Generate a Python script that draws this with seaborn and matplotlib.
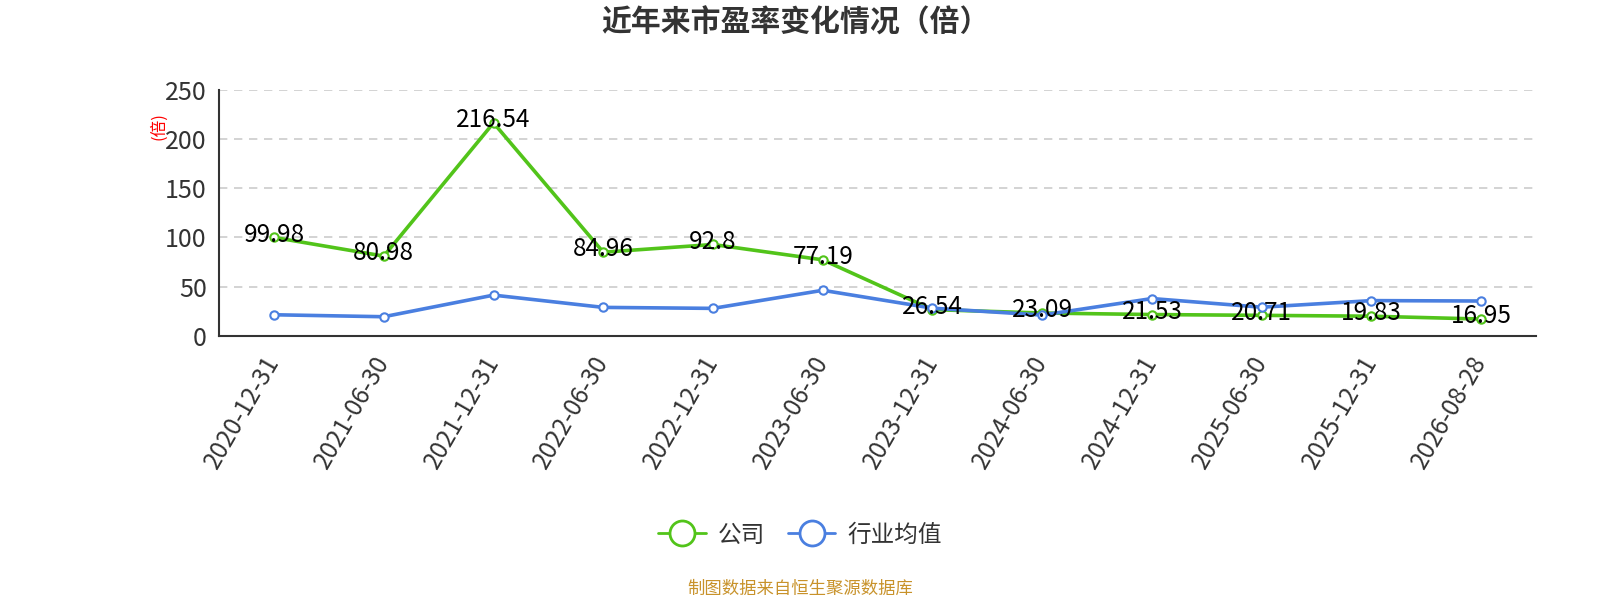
import numpy as np
import pandas as pd
import matplotlib
matplotlib.use("Agg")
import matplotlib.pyplot as plt
import seaborn as sns
from matplotlib.lines import Line2D

# 数据
dates = ["2020-12-31", "2021-06-30", "2021-12-31", "2022-06-30", "2022-12-31", "2023-06-30",
         "2023-12-31", "2024-06-30", "2024-12-31", "2025-06-30", "2025-12-31", "2026-08-28"]
company_pe = [99.98, 80.98, 216.54, 84.96, 92.8, 77.19, 26.54, 23.09, 21.53, 20.71, 19.83, 16.95]
industry_pe = [21.3, 19.3, 41.3, 28.8, 27.8, 46.2, 28.0, 21.0, 37.8, 29.0, 35.7, 35.3]
company_label = "公司"
industry_label = "行业均值"

green = "#52c41a"
blue = "#4a7fe0"

sns.set_style("white")
plt.rcParams['font.family'] = ['Noto Sans CJK SC', 'DejaVu Sans']

df = pd.DataFrame({
    "date": list(range(len(dates))) * 2,
    "pe": company_pe + industry_pe,
    "series": [company_label] * len(dates) + [industry_label] * len(dates),
})

fig = plt.figure(figsize=(16, 6), dpi=100)
ax = fig.add_axes([0.137, 0.4405, 0.823, 0.4095])

sns.lineplot(data=df, x="date", y="pe", hue="series",
             palette={company_label: green, industry_label: blue},
             marker="o", markersize=6, markerfacecolor="white", markeredgewidth=1.5,
             linewidth=2.6, ax=ax, legend=False)
# 标记边框跟随线条颜色
for line in ax.lines:
    line.set_markeredgecolor(line.get_color())

# 数据标签
for i, v in enumerate(company_pe):
    ax.annotate(f"{v:g}", (i, v), xytext=(0, 2), textcoords="offset points",
                ha="center", va="center", fontsize=17.5, color="black")

ax.set_xlim(-0.5, len(dates) - 0.5)
ax.set_ylim(0, 250)
ax.set_yticks(np.arange(0, 251, 50))
ax.yaxis.grid(True, linestyle=(0, (5, 4)), color="#cccccc", linewidth=1.2)
ax.xaxis.grid(False)

# x 轴: 刻度在类目边界, 标签在类目中心
ax.set_xticks(np.arange(-0.5, len(dates), 1.0))
ax.set_xticklabels([])
ax.set_xticks(np.arange(len(dates)), minor=True)
ax.set_xticklabels(dates, minor=True, rotation=60, ha="right", va="center",
                   rotation_mode="anchor", fontsize=17.5, color="#333333")
ax.tick_params(axis="x", which="major", direction="out", length=7, width=1.5, color="#333333")
ax.tick_params(axis="x", which="minor", length=0, pad=16)
ax.tick_params(axis="y", direction="out", length=6, width=1.2, color="#333333",
               labelsize=18, labelcolor="#333333", pad=3)

for s in ["top", "right"]:
    ax.spines[s].set_visible(False)
for s in ["left", "bottom"]:
    ax.spines[s].set_color("#333333")
    ax.spines[s].set_linewidth(1.5)

ax.set_xlabel("")
ax.set_ylabel("")
fig.text(0.099, 0.79, "(倍)", color="red", fontsize=12, rotation=90, ha="center", va="center")

fig.text(0.497, 0.962, "近年来市盈率变化情况（倍）", fontsize=21.5, fontweight="bold",
         color="#333333", ha="center", va="center")

handles = [
    Line2D([], [], color=green, linewidth=2, marker="o", markersize=18,
           markerfacecolor="white", markeredgewidth=2, markeredgecolor=green),
    Line2D([], [], color=blue, linewidth=2, marker="o", markersize=18,
           markerfacecolor="white", markeredgewidth=2, markeredgecolor=blue),
]
fig.legend(handles, [company_label, industry_label], loc="center", bbox_to_anchor=(0.5, 0.108),
           ncol=2, frameon=False, fontsize=17, handlelength=2.0, handletextpad=0.5,
           columnspacing=1.0, labelcolor="#333333")

fig.text(0.5, 0.018, "制图数据来自恒生聚源数据库", fontsize=12.5, color="#c8922a",
         ha="center", va="center")

fig.savefig("out.png", dpi=100)
